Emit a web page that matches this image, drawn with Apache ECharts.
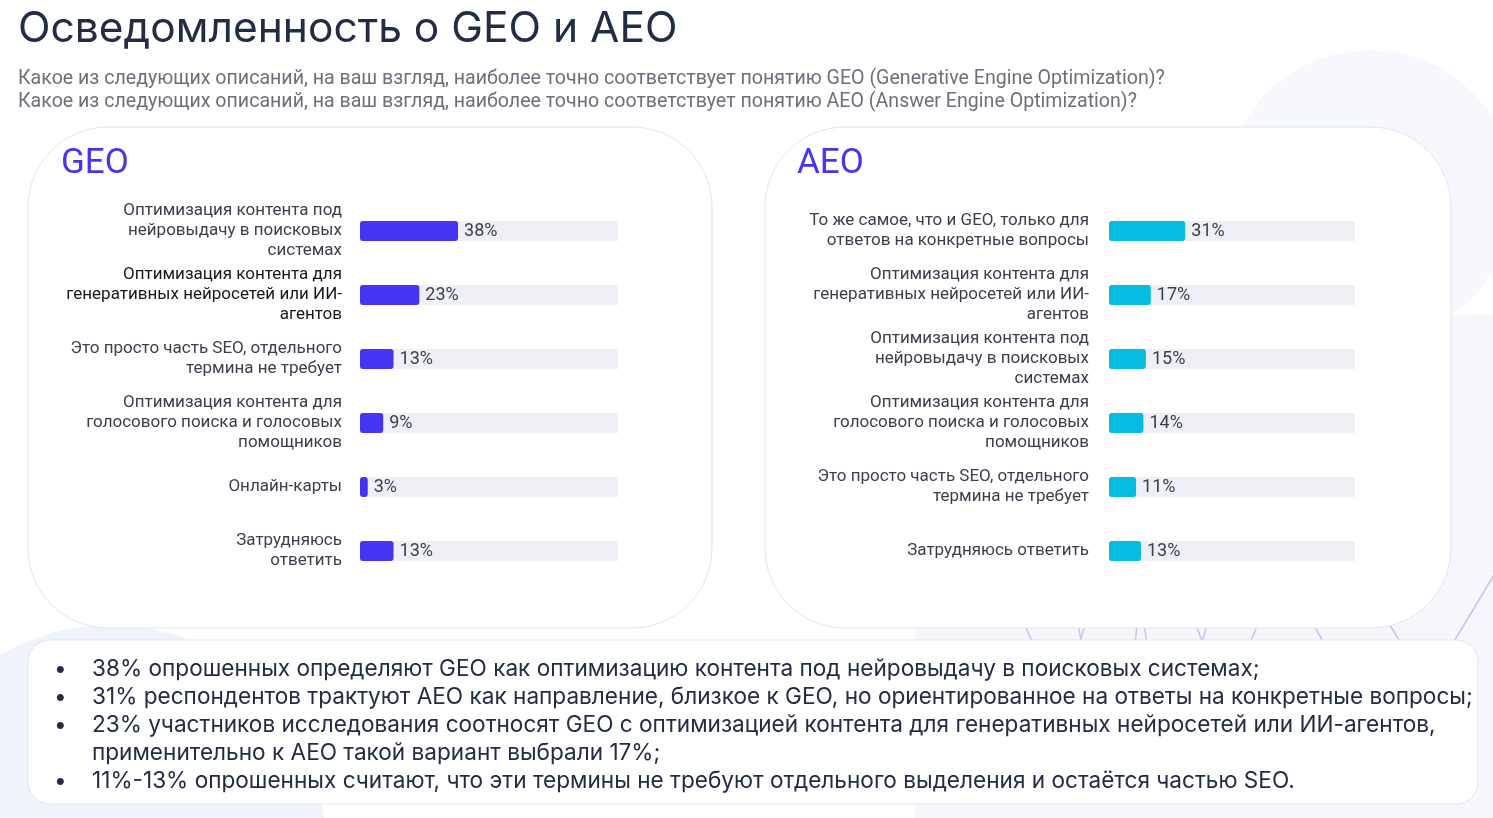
<!DOCTYPE html>
<html lang="ru">
<head>
<meta charset="utf-8">
<title>Осведомленность о GEO и AEO</title>
<script src="https://cdn.jsdelivr.net/npm/echarts@6/dist/echarts.min.js"></script>
<style>
  html, body { margin: 0; padding: 0; background: #fff; }
  #chart { width: 1493px; height: 818px; }
</style>
</head>
<body>
<div id="chart"></div>
<script>
// Data
const geoCategories = [
    'Оптимизация контента под\nнейровыдачу в поисковых\nсистемах',
    'Оптимизация контента для\nгенеративных нейросетей или ИИ-\nагентов',
    'Это просто часть SEO, отдельного\nтермина не требует',
    'Оптимизация контента для\nголосового поиска и голосовых\nпомощников',
    'Онлайн-карты',
    'Затрудняюсь\nответить'
];
const geoValues = [38, 23, 13, 9, 3, 13];

const aeoCategories = [
    'То же самое, что и GEO, только для\nответов на конкретные вопросы',
    'Оптимизация контента для\nгенеративных нейросетей или ИИ-\nагентов',
    'Оптимизация контента под\nнейровыдачу в поисковых\nсистемах',
    'Оптимизация контента для\nголосового поиска и голосовых\nпомощников',
    'Это просто часть SEO, отдельного\nтермина не требует',
    'Затрудняюсь ответить'
];
const aeoValues = [31, 17, 15, 14, 11, 13];

const subtitleLines = [
    'Какое из следующих описаний, на ваш взгляд, наиболее точно соответствует понятию GEO (Generative Engine Optimization)?',
    'Какое из следующих описаний, на ваш взгляд, наиболее точно соответствует понятию AEO (Answer Engine Optimization)?'
];

const summaryLines = [
    { bullet: true,  text: '38% опрошенных определяют GEO как оптимизацию контента под нейровыдачу в поисковых системах;' },
    { bullet: true,  text: '31% респондентов трактуют AEO как направление, близкое к GEO, но ориентированное на ответы на конкретные вопросы;' },
    { bullet: true,  text: '23% участников исследования соотносят GEO с оптимизацией контента для генеративных нейросетей или ИИ-агентов,' },
    { bullet: false, text: 'применительно к AEO такой вариант выбрали 17%;' },
    { bullet: true,  text: '11%-13% опрошенных считают, что эти термины не требуют отдельного выделения и остаётся частью SEO.' }
];

const colors = {
    geo: '#4535f2',
    aeo: '#06bce3',
    track: '#eff0f6',
    label: '#3a3f4b',
    title: '#232c45',
    subtitle: '#6c707a',
    border: '#e3e5ee',
    deco: '#c9c4f4'
};

const chart = echarts.init(document.getElementById('chart'), null, { renderer: 'canvas' });

function buildGraphic() {
    const els = [];

    // background decorations
    els.push({ type: 'circle', shape: { cx: 1370, cy: 195, r: 145 }, style: { fill: '#f6f8fd' }, z: -10 });
    els.push({ type: 'rect', shape: { x: 915, y: 315, width: 578, height: 503 }, style: { fill: '#f6f6fd' }, z: -10 });
    els.push({ type: 'circle', shape: { cx: 110, cy: 840, r: 215 }, style: { fill: '#eff3fc' }, z: -10 });
    // web lines peeking out between the panels
    const decoLines = [
        [1020, 615, 1034, 645], [1088, 615, 1079, 645], [1076, 615, 1082, 645],
        [1138, 615, 1135, 645], [1143, 615, 1147, 645],
        [1193, 615, 1203, 645], [1210, 615, 1201, 645],
        [1262, 615, 1249, 645], [1308, 615, 1325, 645],
        [1382, 612, 1402, 645], [1500, 565, 1450, 648]
    ];
    decoLines.forEach(l => {
        els.push({ type: 'line', shape: { x1: l[0], y1: l[1], x2: l[2], y2: l[3] },
            style: { stroke: colors.deco, lineWidth: 1.6 }, z: -9 });
    });

    // panels
    els.push({ type: 'rect', shape: { x: 28, y: 127, width: 684, height: 501, r: 80 },
        style: { fill: '#fff', stroke: colors.border, lineWidth: 1 }, z: -5 });
    els.push({ type: 'rect', shape: { x: 765, y: 127, width: 686, height: 501, r: 80 },
        style: { fill: '#fff', stroke: colors.border, lineWidth: 1 }, z: -5 });
    els.push({ type: 'rect', shape: { x: 28, y: 640, width: 1450, height: 164, r: 22 },
        style: { fill: '#fff', stroke: colors.border, lineWidth: 1 }, z: -5 });

    // titles
    els.push({ type: 'text', left: 18, top: 8,
        style: { text: 'Осведомленность о GEO и AEO', fill: colors.title, font: '400 42.5px Inter, sans-serif' } });
    subtitleLines.forEach((t, i) => {
        els.push({ type: 'text', left: 18, top: 69 + i * 23,
            style: { text: t, fill: colors.subtitle, font: '400 19.6px Roboto, sans-serif' } });
    });
    els.push({ type: 'text', left: 61, top: 147,
        style: { text: 'GEO', fill: colors.geo, font: '400 35px Roboto, sans-serif' } });
    els.push({ type: 'text', left: 797, top: 147,
        style: { text: 'AEO', fill: colors.geo, font: '400 35px Roboto, sans-serif' } });

    // summary
    summaryLines.forEach((l, i) => {
        const y = 658 + i * 28;
        if (l.bullet) {
            els.push({ type: 'text', left: 54, top: y,
                style: { text: '•', fill: colors.title, font: '400 22.5px Inter, sans-serif' } });
        }
        els.push({ type: 'text', left: 92, top: y,
            style: { text: l.text, fill: colors.title, font: '400 22.6px Inter, sans-serif' } });
    });
    return els;
}

function barSeries(values, color, idx) {
    return {
        type: 'bar',
        xAxisIndex: idx,
        yAxisIndex: idx,
        data: values,
        barWidth: 20,
        showBackground: true,
        backgroundStyle: { color: colors.track, borderRadius: 0 },
        itemStyle: { color: color, borderRadius: 3 },
        label: {
            show: true,
            position: 'right',
            distance: 6,
            formatter: '{c}%',
            color: colors.label,
            fontFamily: 'Roboto, sans-serif',
            fontSize: 18
        },
        animation: false
    };
}

function catAxis(categories, idx, margin) {
    return {
        type: 'category',
        gridIndex: idx,
        data: categories,
        inverse: true,
        axisLine: { show: false },
        axisTick: { show: false },
        axisLabel: {
            margin: margin,
            align: 'right',
            fontFamily: 'Roboto, sans-serif',
            fontSize: 17,
            lineHeight: 20,
            color: (v, i) => (idx === 0 && i === 1) ? '#15181f' : colors.label
        }
    };
}

const option = {
    backgroundColor: '#ffffff',
    graphic: { elements: buildGraphic() },
    grid: [
        { left: 360, top: 199, width: 258, height: 384 },
        { left: 1109, top: 199, width: 246, height: 384 }
    ],
    xAxis: [
        { type: 'value', gridIndex: 0, min: 0, max: 100, show: false },
        { type: 'value', gridIndex: 1, min: 0, max: 100, show: false }
    ],
    yAxis: [
        catAxis(geoCategories, 0, 18),
        catAxis(aeoCategories, 1, 20)
    ],
    series: [
        barSeries(geoValues, colors.geo, 0),
        barSeries(aeoValues, colors.aeo, 1)
    ]
};

chart.setOption(option);
window.addEventListener('resize', () => chart.resize());
</script>
</body>
</html>
